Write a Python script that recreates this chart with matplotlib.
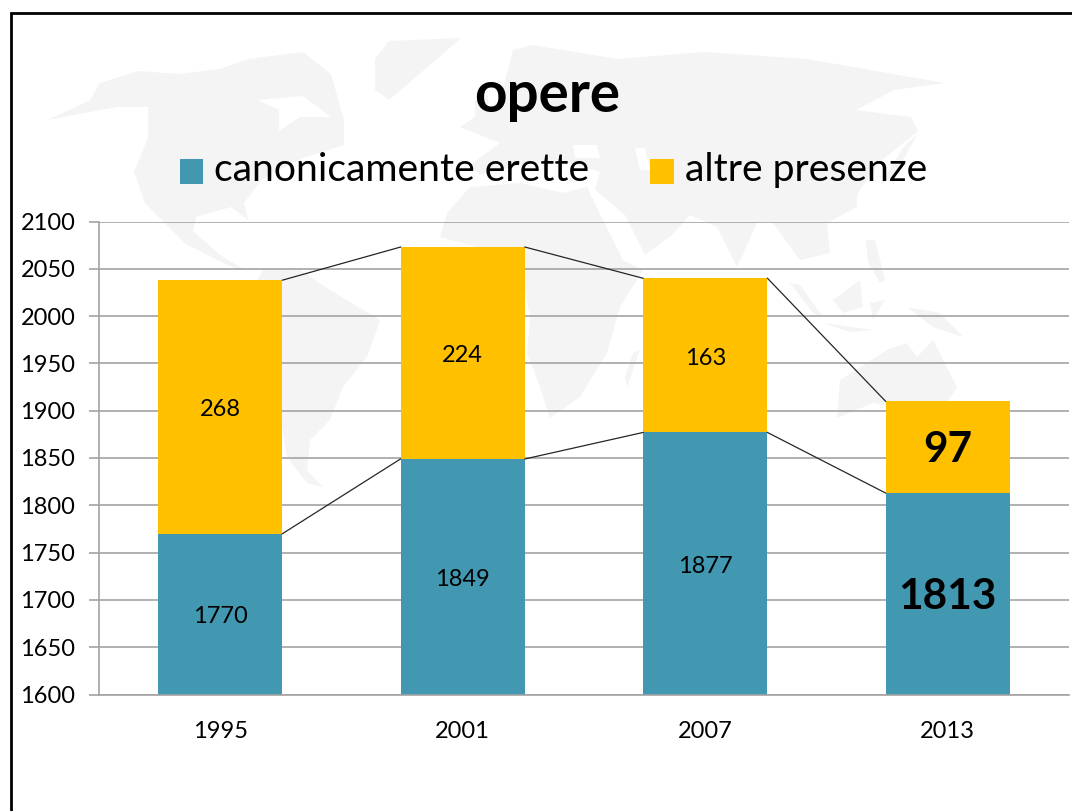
import matplotlib
matplotlib.use("Agg")
import matplotlib.pyplot as plt
from matplotlib.patches import Polygon, Rectangle
from matplotlib.legend_handler import HandlerPatch

plt.rcParams['font.family'] = ['Lato', 'DejaVu Sans']

years = ["1995", "2001", "2007", "2013"]
erette = [1770, 1849, 1877, 1813]
altre = [268, 224, 163, 97]
yticks = [1600, 1650, 1700, 1750, 1800, 1850, 1900, 1950, 2000, 2050, 2100]

# faint world map behind the chart, pixel outlines
land = [
    [(48,120),(90,100),(100,83),(138,71),(179,74),(220,69),(248,59),(303,52),(331,74),(344,120),(344,145),(303,158),(262,179),(244,203),(248,220),(231,207),(196,217),(193,231),(220,255),(248,272),(227,265),(186,244),(162,220),(145,203),(134,172),(148,138),(148,107),(117,107),(79,114)],
    [(375,59),(389,41),(461,38),(430,65),(389,100),(375,90)],
    [(263,270),(297,268),(330,290),(380,320),(367,357),(343,387),(330,420),(310,440),(307,470),(323,487),(307,483),(287,457),(280,413),(250,350),(240,310)],
    [(447,213),(470,187),(520,183),(563,193),(587,187),(603,220),(623,260),(643,270),(620,307),(607,353),(580,397),(550,418),(540,387),(527,353),(530,317),(523,280),(477,247),(440,237)],
    [(640,350),(627,387),(625,377),(633,353)],
    [(513,50),(532,45),(618,59),(704,52),(807,59),(945,83),(894,90),(856,110),(911,117),(918,131),(880,162),(870,175),(857,195),(857,207),(827,223),(830,253),(800,260),(773,223),(757,223),(737,267),(717,227),(690,215),(672,235),(645,255),(625,215),(595,190),(600,172),(560,160),(520,165),(480,175),(470,165),(500,143),(460,127),(500,100)],
    [(790,283),(800,285),(823,317),(813,313)],
    [(833,300),(860,280),(863,307),(843,313)],
    [(823,323),(873,330),(850,332)],
    [(870,303),(885,300),(873,320)],
    [(866,240),(875,240),(885,280),(880,283),(868,262)],
    [(907,307),(940,313),(963,337),(933,327)],
    [(840,380),(887,350),(907,343),(917,357),(933,340),(957,387),(940,413),(907,410),(873,403),(837,418)],
    [(905,145),(917,135),(895,175),(880,185)],
    [(475,100),(488,95),(490,125),(475,125)],
]
holes = [
    [(258,100),(303,96),(331,117),(300,117),(279,131),(279,110)],
    [(635,148),(645,148),(650,170),(640,170)],
    [(573,145),(597,145),(600,158),(575,158)],
]

fig = plt.figure(figsize=(10.72, 8.11), dpi=100, facecolor="white")

bg = fig.add_axes([0, 0, 1, 1], zorder=0)
bg.set_xlim(0, 1072)
bg.set_ylim(811, 0)
bg.axis("off")
for p in land:
    bg.add_patch(Polygon(p, closed=True, fc="#f4f4f5", ec="none"))
for p in holes:
    bg.add_patch(Polygon(p, closed=True, fc="white", ec="none"))
bg.plot([11, 11, 1072], [811, 12.5, 12.5], color="black", lw=2, solid_joinstyle="miter")

ax = fig.add_axes([99/1072, 1-694.5/811, 970/1072, 473/811], zorder=1)
ax.patch.set_alpha(0)

x = list(range(len(years)))
w = 0.513
blue = "#4298b1"
yellow = "#ffc000"
ax.yaxis.grid(True, color="#a3a3a3", lw=1.2)
ax.set_axisbelow(True)
b1 = ax.bar(x, erette, w, color=blue)
b2 = ax.bar(x, altre, w, bottom=erette, color=yellow)

# series lines between the bars
for i in range(len(x) - 1):
    ax.plot([x[i]+w/2, x[i+1]-w/2], [erette[i], erette[i+1]], color="#262626", lw=0.9)
    ax.plot([x[i]+w/2, x[i+1]-w/2], [erette[i]+altre[i], erette[i+1]+altre[i+1]], color="#262626", lw=0.9)

for i in x:
    big = i == len(x) - 1
    size = 30.5 if big else 17
    weight = "bold" if big else "normal"
    ax.annotate(str(erette[i]), (i, (1600+erette[i])/2), xytext=(0, -2), textcoords="offset points",
                ha="center", va="center", fontsize=size, fontweight=weight, color="black")
    ax.annotate(str(altre[i]), (i, erette[i]+altre[i]/2), xytext=(0, -2), textcoords="offset points",
                ha="center", va="center", fontsize=size, fontweight=weight, color="black")

ax.set_xlim(-0.5, 3.5)
ax.set_ylim(1600, 2100)
ax.set_xticks(x, years)
ax.set_yticks(yticks)
ax.tick_params(axis="x", length=0, labelsize=17, pad=19)
ax.tick_params(axis="y", length=7, width=1.2, color="#a3a3a3", labelsize=17, pad=10)
for s in ["top", "right"]:
    ax.spines[s].set_visible(False)
for s in ["left", "bottom"]:
    ax.spines[s].set_color("#a3a3a3")
    ax.spines[s].set_linewidth(1.2)

fig.text(547/1072, 1-96/811, "opere", ha="center", va="center", fontsize=40.8, fontweight="bold")


def low_square(legend, orig_handle, xdescent, ydescent, width, height, fontsize):
    return Rectangle((-xdescent, -ydescent-3), width, height)


fig.legend(handles=[b1[0], b2[0]], labels=["canonicamente erette", "altre presenze"],
           loc="center", bbox_to_anchor=(553.5/1072, 1-170/811), ncol=2,
           frameon=False, fontsize=28.2, handlelength=0.59, handleheight=0.6,
           handletextpad=0.28, columnspacing=1.56,
           handler_map={Rectangle: HandlerPatch(patch_func=low_square)})

fig.savefig("out.png", dpi=100)
